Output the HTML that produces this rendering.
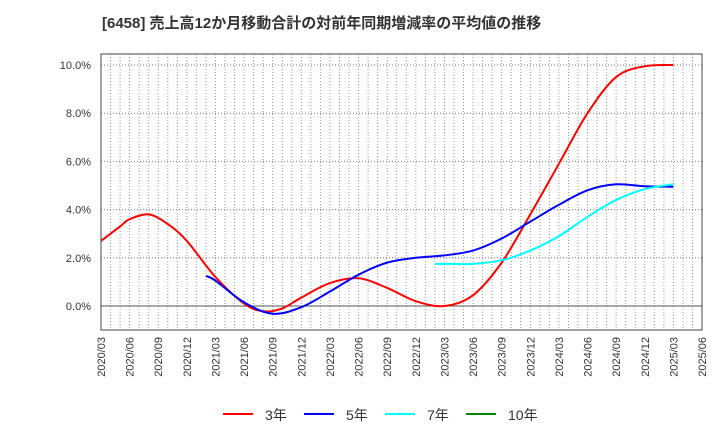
<!DOCTYPE html>
<html><head><meta charset="utf-8"><style>
body{margin:0;background:#fff;}
svg{display:block;font-family:"Liberation Sans","Noto Sans CJK JP",sans-serif;}
</style></head><body>
<svg id="c" width="720" height="440">
<text x="102" y="28" font-size="15" font-weight="bold" fill="#333">[6458]  売上高12か月移動合計の対前年同期増減率の平均値の推移</text>
<g id="grid"></g><g id="series"></g><g id="axes"></g>
<g>
<g><line x1="223" y1="414" x2="253" y2="414" stroke="#f00" stroke-width="2"/><text x="265" y="420" font-size="14" fill="#333">3年</text></g>
<g><line x1="304" y1="414" x2="334" y2="414" stroke="#00f" stroke-width="2"/><text x="346" y="420" font-size="14" fill="#333">5年</text></g>
<g><line x1="385" y1="414" x2="415" y2="414" stroke="#0ff" stroke-width="2"/><text x="427" y="420" font-size="14" fill="#333">7年</text></g>
<g><line x1="466" y1="414" x2="496" y2="414" stroke="#080" stroke-width="2"/><text x="508" y="420" font-size="14" fill="#333">10年</text></g>
</g>
</svg>
<script>
// month index from 2020/03
const xTickLabels=["2020/03","2020/06","2020/09","2020/12","2021/03","2021/06","2021/09","2021/12","2022/03","2022/06","2022/09","2022/12","2023/03","2023/06","2023/09","2023/12","2024/03","2024/06","2024/09","2024/12","2025/03","2025/06"];
const yTicks=[0,2,4,6,8,10];
const r3Months=[0,2,3,5,7,9,12,15,17,19,21,24,27,30,33,36,39,42,45,48,51,54,57,60];
const r3Values=[2.7,3.3,3.6,3.8,3.4,2.7,1.2,0.1,-0.22,-0.1,0.35,0.95,1.15,0.75,0.2,0.0,0.45,1.8,3.8,5.9,8.0,9.5,9.95,10.0];
const r5Months=[11,12,15,18,21,24,27,30,33,36,39,42,45,48,51,54,57,60];
const r5Values=[1.25,1.05,0.15,-0.32,-0.05,0.6,1.3,1.8,2.0,2.1,2.3,2.8,3.5,4.2,4.8,5.05,4.97,4.95];
const r7Months=[35,36,39,42,45,48,51,54,57,60];
const r7Values=[1.75,1.75,1.75,1.9,2.3,2.9,3.7,4.4,4.85,5.05];
const X0=101,X1=702,Y0=54,Y1=330;
const xs=m=>X0+m*(X1-X0)/63;
const ys=v=>306-v*24.1;
const NS="http://www.w3.org/2000/svg";
function mk(t,a,p){const e=document.createElementNS(NS,t);for(const k in a)e.setAttribute(k,a[k]);p.appendChild(e);return e;}
const grid=document.getElementById('grid'),axes=document.getElementById('axes'),ser=document.getElementById('series');
for(let m=1;m<63;m++){
 const l=mk('line',{x1:xs(m),x2:xs(m),y1:Y0,y2:Y1,stroke:'#999','stroke-dasharray':'1,2','stroke-width':1},grid);
 
 
}
yTicks.forEach(v=>{
 const l=mk('line',{x1:X0,x2:X1,y1:ys(v),y2:ys(v),stroke:v===0?'#555':'#777','stroke-dasharray':v===0?'':'1,2','stroke-width':1},grid);
 
 
 const t=mk('text',{x:91,y:ys(v)+4,'text-anchor':'end','font-size':11,fill:'#333'},axes);
 t.textContent=v.toFixed(1)+'%';
 
 
});
xTickLabels.forEach((s,i)=>{
 const x=xs(i*3),y=337;
 const t=mk('text',{x:x+4,y:y,'text-anchor':'end','font-size':11,fill:'#333',transform:`rotate(-90 ${x+4} ${y})`},axes);
 t.textContent=s;
 
 
});
const fr=mk('rect',{x:X0,y:Y0,width:X1-X0,height:Y1-Y0,fill:'none',stroke:'#444','stroke-width':1},axes);


function path(ms,vs){
 const P=ms.map((m,i)=>[xs(m),ys(vs[i])]);
 let d=`M${P[0][0]},${P[0][1]}`;
 for(let i=0;i<P.length-1;i++){
  const p0=P[Math.max(0,i-1)],p1=P[i],p2=P[i+1],p3=P[Math.min(P.length-1,i+2)];
  const c1=[p1[0]+(p2[0]-p0[0])/6,p1[1]+(p2[1]-p0[1])/6],c2=[p2[0]-(p3[0]-p1[0])/6,p2[1]-(p3[1]-p1[1])/6];
  d+=`C${c1[0]},${c1[1]} ${c2[0]},${c2[1]} ${p2[0]},${p2[1]}`;
 }
 return d;
}
[[r3Months,r3Values,'#f00','line-3y'],[r5Months,r5Values,'#00f','line-5y'],[r7Months,r7Values,'#0ff','line-7y']].forEach(s=>{
 const p=mk('path',{d:path(s[0],s[1]),fill:'none',stroke:s[2],'stroke-width':2},ser);
 
 
});
</script>
</body></html>
